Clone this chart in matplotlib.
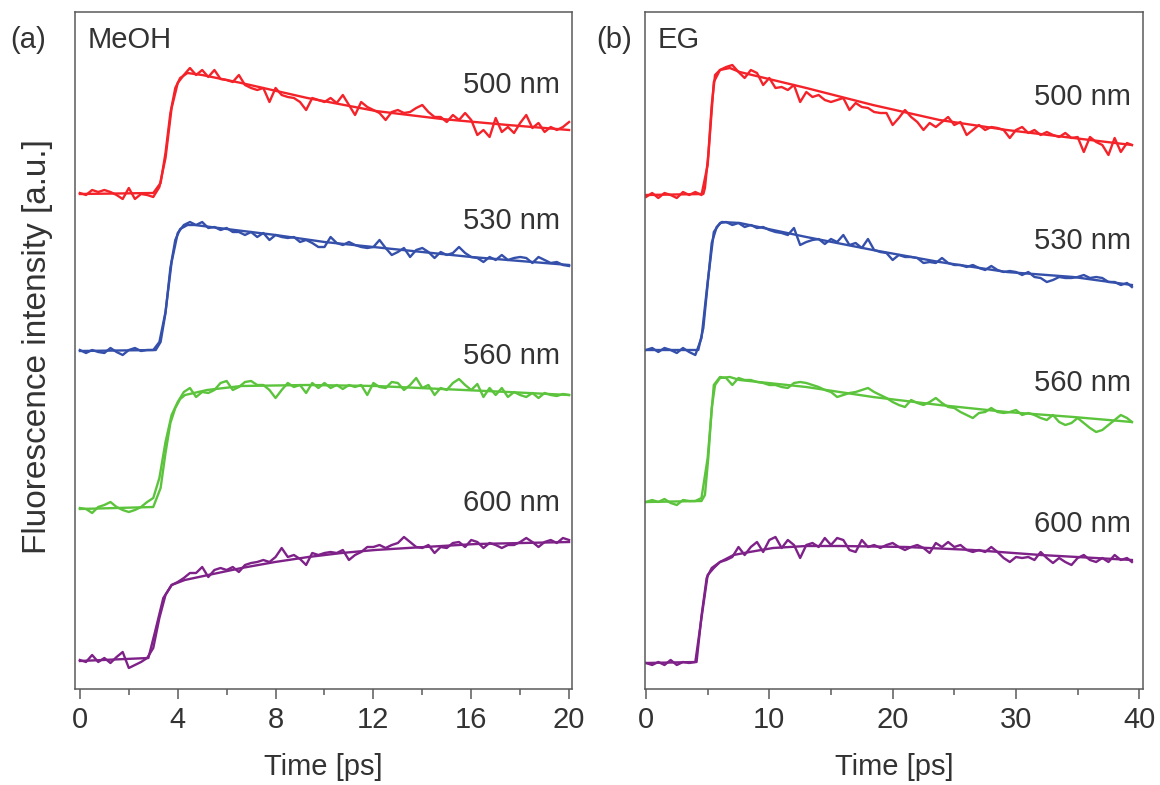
import numpy as np
import matplotlib
matplotlib.use("Agg")
import matplotlib.pyplot as plt
from matplotlib.ticker import MultipleLocator

plt.rcParams['font.family'] = ['Liberation Sans', 'DejaVu Sans']

# ---------------- data: (a) MeOH, time grid 0..20 ps step 0.25 ----------------
t_meoh = np.arange(0, 20.001, 0.25)

red_meoh = [49.5, 49.3, 49.8, 49.6, 49.8, 49.6, 49.3, 48.9, 50.0, 48.9, 49.4, 49.3, 49.1,
            50.1, 53.0, 58.0, 60.5, 61.3, 62.0, 61.3, 61.8, 61.1, 61.8, 60.9, 60.8,
            60.6, 61.3, 60.3, 60.0, 59.8, 60.0, 58.6, 60.0, 59.3, 59.1, 59.0, 58.6,
            57.8, 59.0, 58.8, 58.6, 59.0, 58.5, 59.3, 58.3, 57.3, 58.6, 58.1, 57.8,
            57.5, 56.8, 57.6, 57.8, 57.5, 57.6, 58.0, 58.3, 57.6, 57.1, 57.1, 56.6,
            57.3, 56.8, 57.5, 56.8, 55.3, 55.8, 55.1, 57.0, 55.6, 56.1, 55.5, 56.5,
            57.3, 56.0, 56.5, 55.6, 56.1, 55.8, 56.1, 56.6]
blue_meoh = [33.8, 33.5, 33.8, 33.6, 33.5, 34.0, 33.6, 33.3, 33.8, 34.0, 33.7, 33.8, 33.8,
             34.6, 37.6, 42.6, 45.5, 46.3, 46.6, 46.3, 46.6, 46.0, 46.1, 45.8, 46.0,
             45.6, 45.6, 45.3, 45.6, 45.1, 45.5, 44.8, 45.3, 45.1, 45.0, 45.1, 44.6,
             44.8, 44.5, 44.1, 44.1, 45.1, 44.5, 44.3, 44.6, 44.3, 44.1, 44.0, 44.1,
             44.8, 44.0, 43.3, 43.6, 44.0, 43.1, 43.8, 44.0, 43.6, 43.0, 43.6, 43.3,
             43.5, 44.1, 43.5, 43.1, 43.0, 42.6, 43.1, 42.8, 43.3, 42.8, 43.0, 43.1,
             43.0, 42.5, 43.1, 42.8, 42.5, 42.6, 42.3, 42.2]
green_meoh = [18.0, 17.9, 17.5, 18.1, 18.3, 18.6, 18.1, 17.8, 17.6, 17.8, 18.1, 18.6, 19.0,
              21.0, 24.6, 27.3, 28.6, 29.6, 30.0, 29.1, 29.6, 29.5, 29.8, 30.5, 30.7,
              29.8, 30.1, 30.6, 30.7, 30.3, 30.3, 29.8, 29.0, 29.8, 30.5, 30.1, 30.3,
              29.5, 30.5, 30.0, 30.5, 30.0, 30.3, 29.9, 30.3, 30.1, 30.3, 29.3, 30.5,
              30.1, 30.0, 30.6, 30.5, 29.8, 30.3, 31.0, 30.0, 30.3, 29.3, 30.0, 29.8,
              30.5, 30.9, 30.3, 29.8, 30.4, 29.1, 30.0, 29.3, 30.0, 29.1, 29.6, 29.3,
              29.1, 29.5, 29.0, 29.5, 29.3, 29.2, 29.4, 29.3]
purple_meoh = [2.8, 2.6, 3.3, 2.6, 3.0, 2.5, 3.1, 3.6, 2.0, 2.3, 2.6, 3.0, 4.0,
               7.0, 9.3, 10.3, 10.6, 11.0, 11.5, 11.5, 12.1, 11.1, 11.8, 12.0, 11.8,
               12.1, 11.6, 12.3, 12.5, 12.6, 12.8, 12.6, 13.1, 14.0, 13.1, 13.3, 12.9,
               12.3, 13.5, 13.3, 13.5, 13.6, 13.5, 13.8, 12.8, 13.3, 13.6, 14.1, 14.1,
               14.3, 14.0, 14.3, 14.5, 15.1, 14.6, 14.1, 14.0, 14.3, 13.5, 14.1, 14.0,
               14.5, 14.6, 14.1, 14.8, 14.6, 14.0, 14.5, 14.3, 14.0, 14.3, 14.3, 14.6,
               15.0, 14.6, 14.1, 14.6, 14.8, 14.5, 15.0, 14.8]

# fits (a)
fit_t_red_meoh = [0, 3.0, 3.3, 3.5, 3.7, 3.9, 4.1, 4.4, 5.0, 6.6, 9.3, 12.1, 14.8, 17.5, 20.0]
fit_red_meoh = [49.4, 49.5, 50.5, 53.5, 57.5, 60.0, 61.0, 61.5, 61.3, 60.5, 59.0, 57.7, 56.9, 56.3, 55.8]
fit_t_blue_meoh = [0, 3.1, 3.3, 3.5, 3.7, 3.9, 4.1, 4.4, 4.7, 6.0, 8.0, 10.0, 12.0, 14.0, 16.0, 18.0, 20.0]
fit_blue_meoh = [33.7, 33.8, 34.6, 37.5, 42.0, 44.8, 45.9, 46.3, 46.3, 45.9, 45.3, 44.6, 44.1, 43.6, 43.1, 42.7, 42.3]
fit_t_green_meoh = [0, 3.0, 3.3, 3.5, 3.7, 3.9, 4.1, 4.3, 5.2, 6.6, 9.3, 12.1, 14.8, 17.5, 20.0]
fit_green_meoh = [17.9, 18.1, 20.0, 23.5, 26.5, 28.0, 28.9, 29.3, 29.8, 30.2, 30.3, 30.2, 29.9, 29.6, 29.3]
fit_t_purple_meoh = [0, 2.8, 3.07, 3.41, 3.75, 4.29, 5.25, 6.61, 7.98, 9.34, 10.7, 12.07, 13.4, 16.2, 20.0]
fit_purple_meoh = [2.7, 3.0, 5.6, 9.0, 10.3, 10.8, 11.3, 12.0, 12.6, 13.1, 13.5, 13.8, 14.0, 14.4, 14.6]

# ---------------- data: (b) EG, time grid 0..39 ps step 0.5, plus 39.4 ----------------
t_eg = np.append(np.arange(0, 39.001, 0.5), 39.4)

red_eg = [49.1, 49.5, 49.0, 49.5, 49.3, 49.0, 49.6, 49.3, 49.6, 49.3,
          52.3, 60.6, 61.8, 62.1, 62.3, 61.6, 61.0, 61.8, 61.5, 60.3,
          61.0, 60.0, 60.1, 59.8, 60.3, 58.6, 59.6, 59.1, 59.3, 58.8,
          58.6, 58.8, 59.0, 57.8, 58.5, 58.1, 58.0, 57.6, 57.5, 57.5,
          56.3, 57.0, 57.8, 57.1, 56.6, 55.8, 56.5, 56.1, 56.6, 57.1,
          56.3, 56.6, 55.3, 55.8, 56.3, 55.8, 56.1, 56.0, 55.8, 55.0,
          55.8, 56.1, 55.5, 55.8, 55.3, 55.6, 55.3, 55.1, 55.5, 55.0,
          55.1, 53.6, 55.1, 54.6, 54.3, 53.3, 55.0, 53.6, 54.5, 54.3]
blue_eg = [33.8, 34.0, 33.6, 34.0, 33.8, 33.5, 34.0, 33.6, 33.3, 35.0,
           40.6, 45.6, 46.5, 46.6, 46.3, 46.5, 46.1, 46.3, 46.0, 46.1,
           45.8, 45.6, 45.5, 45.3, 46.0, 44.3, 44.6, 44.8, 44.9, 44.4,
           44.9, 44.6, 45.3, 44.3, 44.5, 44.0, 44.9, 43.8, 43.6, 43.5,
           42.8, 43.3, 43.1, 43.1, 43.0, 42.5, 42.6, 42.5, 43.0, 42.5,
           42.3, 42.3, 42.1, 42.3, 42.0, 41.8, 42.2, 41.8, 41.6, 41.7,
           41.6, 41.3, 41.6, 41.1, 41.0, 40.6, 40.8, 41.1, 41.0, 41.0,
           41.1, 41.3, 41.0, 41.1, 41.0, 40.6, 40.6, 40.3, 40.5, 40.1]
green_eg = [18.6, 18.8, 18.6, 18.9, 18.5, 18.3, 18.8, 18.7, 18.7, 19.0,
            23.0, 30.3, 31.1, 31.0, 30.3, 31.0, 30.8, 30.8, 30.6, 30.5,
            30.3, 30.3, 30.1, 30.0, 30.5, 30.6, 30.5, 30.3, 30.1, 29.8,
            29.6, 29.1, 29.3, 29.5, 29.6, 29.8, 30.0, 29.6, 29.3, 29.0,
            28.6, 28.3, 28.1, 28.8, 28.5, 28.3, 28.6, 29.0, 28.5, 28.1,
            28.0, 27.6, 27.3, 27.0, 27.5, 27.6, 28.0, 27.6, 27.5, 27.6,
            27.8, 27.3, 27.5, 27.3, 27.0, 26.8, 27.3, 26.6, 26.3, 26.5,
            27.0, 26.5, 26.0, 25.6, 25.8, 26.3, 26.8, 27.3, 27.0, 26.6]
purple_eg = [2.5, 2.3, 2.6, 2.3, 2.8, 2.3, 2.6, 2.5, 2.6, 7.0,
             11.3, 12.0, 12.6, 12.8, 13.1, 14.1, 13.3, 14.1, 14.6, 13.6,
             14.8, 15.1, 14.0, 14.8, 14.3, 13.0, 14.3, 14.5, 14.1, 15.0,
             14.3, 15.0, 14.8, 13.8, 13.6, 14.8, 14.1, 14.3, 14.0, 14.3,
             14.5, 14.1, 13.8, 14.1, 14.3, 14.0, 13.5, 14.5, 14.1, 14.6,
             14.1, 14.3, 13.8, 13.6, 13.8, 13.6, 14.1, 13.6, 13.0, 12.6,
             13.1, 13.0, 13.1, 12.8, 13.6, 13.0, 12.5, 13.0, 12.6, 12.3,
             13.0, 13.3, 12.8, 12.6, 13.0, 12.6, 13.3, 12.8, 13.0, 12.6]

# fits (b)
fit_t_red_eg = [0, 4.65, 4.78, 5.05, 5.33, 5.6, 6.0, 6.8, 7.6, 13.0, 18.4, 23.8, 29.25, 34.66, 39.4]
fit_red_eg = [49.3, 49.4, 50.0, 53.3, 58.3, 61.3, 61.8, 62.0, 61.6, 60.0, 58.3, 56.8, 55.8, 55.0, 54.3]
fit_t_blue_eg = [0, 4.24, 4.65, 5.05, 5.33, 5.73, 6.14, 7.6, 13.0, 18.4, 23.8, 29.25, 34.66, 39.4]
fit_blue_eg = [33.8, 33.8, 36.0, 41.0, 44.5, 46.1, 46.6, 46.5, 45.1, 43.8, 42.6, 41.6, 41.1, 40.3]
fit_t_green_eg = [0, 4.5, 4.78, 5.05, 5.33, 5.6, 6.0, 6.8, 7.6, 13.0, 18.4, 23.8, 29.25, 34.66, 39.4]
fit_green_eg = [18.6, 18.7, 19.3, 23.0, 28.0, 30.3, 31.0, 31.1, 30.8, 30.1, 29.1, 28.3, 27.6, 27.1, 26.6]
fit_t_purple_eg = [0, 4.1, 4.51, 4.92, 5.33, 6.0, 7.1, 8.4, 10.3, 13.0, 15.7, 21.1, 26.5, 32.0, 39.4]
fit_purple_eg = [2.5, 2.6, 7.3, 11.0, 12.0, 12.6, 13.3, 13.6, 14.0, 14.2, 14.2, 14.1, 13.8, 13.3, 12.8]

wavelength_labels = ["500 nm", "530 nm", "560 nm", "600 nm"]
label_y_meoh = [60.3, 46.7, 33.2, 18.5]
label_y_eg = [59.1, 44.7, 30.5, 16.4]

colors = ['#f4232a', '#3550ab', '#5cc43c', '#7e2188']
TXT = '#333333'
SPINE = '#5a5a5a'

fig = plt.figure(figsize=(11.6, 7.85), dpi=100)
axL = fig.add_axes([75 / 1160, 1 - 689 / 785, 497 / 1160, 677 / 785])
axR = fig.add_axes([645 / 1160, 1 - 689 / 785, 498 / 1160, 677 / 785])

lw = 1.7
panels = [
    (axL, t_meoh, [red_meoh, blue_meoh, green_meoh, purple_meoh],
     [(fit_t_red_meoh, fit_red_meoh), (fit_t_blue_meoh, fit_blue_meoh),
      (fit_t_green_meoh, fit_green_meoh), (fit_t_purple_meoh, fit_purple_meoh)],
     label_y_meoh, 'MeOH', (-0.2, 20.12), 2, [0, 4, 8, 12, 16, 20]),
    (axR, t_eg, [red_eg, blue_eg, green_eg, purple_eg],
     [(fit_t_red_eg, fit_red_eg), (fit_t_blue_eg, fit_blue_eg),
      (fit_t_green_eg, fit_green_eg), (fit_t_purple_eg, fit_purple_eg)],
     label_y_eg, 'EG', (-0.08, 40.3), 5, [0, 10, 20, 30, 40]),
]

for ax, tt, series, fits, ly, solvent, xl, mnr, ticks in panels:
    for c, y, (ft, fy), yy, lab in zip(colors, series, fits, ly, wavelength_labels):
        ax.plot(tt, y, color=c, lw=lw, solid_joinstyle='round')
        ax.plot(ft, fy, color=c, lw=lw)
        ax.text(0.975, yy, lab, transform=ax.get_yaxis_transform(), ha='right',
                va='center', fontsize=21, color=TXT)
    ax.set_xlim(*xl)
    ax.set_ylim(-0.1, 67.6)
    ax.set_xticks(ticks)
    ax.xaxis.set_minor_locator(MultipleLocator(mnr))
    ax.set_yticks([])
    ax.tick_params(axis='x', which='major', direction='out', length=7, width=1.1,
                   color=SPINE, labelsize=21, labelcolor=TXT, pad=5)
    ax.tick_params(axis='x', which='minor', direction='out', length=4.5, width=1.1,
                   color=SPINE)
    for s in ax.spines.values():
        s.set_color(SPINE)
        s.set_linewidth(1.1)
    ax.set_xlabel('Time [ps]', fontsize=21, color=TXT, labelpad=14)
    ax.text(0.026, 0.958, solvent, transform=ax.transAxes, ha='left', va='center',
            fontsize=21, color=TXT)

fig.text(10 / 1160, 1 - 40 / 785, '(a)', ha='left', va='center', fontsize=21, color=TXT)
fig.text(596 / 1160, 1 - 40 / 785, '(b)', ha='left', va='center', fontsize=21, color=TXT)
fig.text(38 / 1160, 1 - 347 / 785, 'Fluorescence intensity [a.u.]', rotation=90,
         ha='center', va='center', fontsize=24, color=TXT)

fig.savefig('out.png', dpi=100, facecolor='white')
